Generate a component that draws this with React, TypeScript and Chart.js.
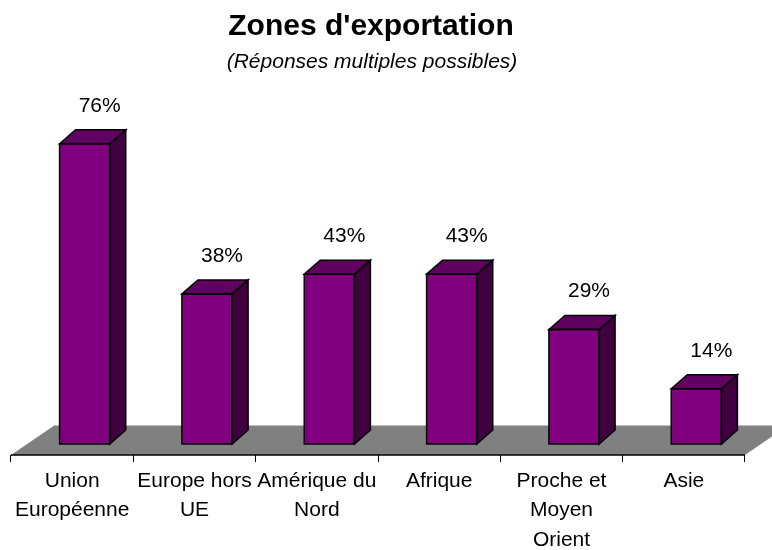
import React, { useEffect, useRef } from "react";
import { Chart, registerables } from "chart.js";

Chart.register(...registerables);

const TITLE = "Zones d'exportation";
const SUBTITLE = "(Réponses multiples possibles)";
const categories: string[][] = [
  ["Union", "Européenne"],
  ["Europe hors", "UE"],
  ["Amérique du", "Nord"],
  ["Afrique"],
  ["Proche et", "Moyen", "Orient"],
  ["Asie"],
];
const values: number[] = [76, 38, 43, 43, 29, 14];
const valueLabels: string[] = ["76%", "38%", "43%", "43%", "29%", "14%"];

const FONT = '"Liberation Sans", Arial, sans-serif';
const SHIFT = 12.5; // perspective shift of bars
const BDX = 16;
const BDY = 14;
const FDX = 44;
const FDY = 30;

const threeD = {
  id: "threeD",
  beforeDatasetsDraw(chart: any) {
    const { ctx, chartArea } = chart;
    const x0 = chartArea.left;
    const x1 = chartArea.right;
    const y0 = chartArea.bottom;
    ctx.save();
    ctx.beginPath();
    ctx.moveTo(x0, y0);
    ctx.lineTo(x0 + FDX, y0 - FDY);
    ctx.lineTo(x1 + FDX, y0 - FDY);
    ctx.lineTo(x1, y0);
    ctx.closePath();
    ctx.fillStyle = "#808080";
    ctx.fill();
    ctx.strokeStyle = "#c0c0c0";
    ctx.lineWidth = 1;
    ctx.beginPath();
    ctx.moveTo(x0 + FDX, y0 - FDY + 0.5);
    ctx.lineTo(x1 + FDX, y0 - FDY + 0.5);
    ctx.stroke();
    ctx.strokeStyle = "#000";
    ctx.lineWidth = 1.5;
    ctx.beginPath();
    ctx.moveTo(x0, y0);
    ctx.lineTo(x1, y0);
    ctx.stroke();
    ctx.restore();
  },
  beforeDatasetDraw(chart: any) {
    chart.ctx.save();
    chart.ctx.translate(SHIFT, 0);
  },
  afterDatasetDraw(chart: any, args: any) {
    const { ctx } = chart;
    const meta = args.meta;
    meta.data.forEach((bar: any) => {
      const { x, y, base, width } = bar.getProps(["x", "y", "base", "width"], true);
      const l = x - width / 2;
      const r = x + width / 2;
      ctx.lineWidth = 1.5;
      ctx.strokeStyle = "#000";
      ctx.lineJoin = "miter";
      // side
      ctx.beginPath();
      ctx.moveTo(r, y);
      ctx.lineTo(r + BDX, y - BDY);
      ctx.lineTo(r + BDX, base - BDY);
      ctx.lineTo(r, base);
      ctx.closePath();
      ctx.fillStyle = "#400040";
      ctx.fill();
      ctx.stroke();
      // top
      ctx.beginPath();
      ctx.moveTo(l, y);
      ctx.lineTo(l + BDX, y - BDY);
      ctx.lineTo(r + BDX, y - BDY);
      ctx.lineTo(r, y);
      ctx.closePath();
      ctx.fillStyle = "#600060";
      ctx.fill();
      ctx.stroke();
      // front outline
      ctx.strokeRect(l, y, width, base - y);
    });
    ctx.restore();
  },
  afterDatasetsDraw(chart: any) {
    const { ctx } = chart;
    const meta = chart.getDatasetMeta(0);
    ctx.save();
    ctx.fillStyle = "#000";
    ctx.font = `21px ${FONT}`;
    ctx.textAlign = "center";
    ctx.textBaseline = "alphabetic";
    meta.data.forEach((bar: any, i: number) => {
      const { x, y } = bar.getProps(["x", "y"], true);
      ctx.fillText(valueLabels[i], x + SHIFT + 15, y - 32);
    });
    ctx.restore();
  },
  afterDraw(chart: any) {
    const { ctx } = chart;
    ctx.save();
    ctx.fillStyle = "#000";
    ctx.textAlign = "center";
    ctx.textBaseline = "alphabetic";
    ctx.font = `bold 30px ${FONT}`;
    ctx.fillText(TITLE, 371, 35);
    ctx.font = `italic 21px ${FONT}`;
    ctx.fillText(SUBTITLE, 372, 68);
    ctx.restore();
  },
};

export default function App() {
  const ref = useRef<HTMLCanvasElement>(null);
  useEffect(() => {
    const chart = new Chart(ref.current as HTMLCanvasElement, {
      type: "bar",
      data: {
        labels: categories,
        datasets: [
          {
            data: values,
            backgroundColor: "#800080",
            borderWidth: 0,
            barPercentage: 0.41,
            categoryPercentage: 1,
          },
        ],
      },
      options: {
        responsive: false,
        animation: false,
        events: [],
        layout: { padding: { top: 100, left: 11, right: 27, bottom: 0 } },
        plugins: {
          legend: { display: false },
          title: { display: false },
          tooltip: { enabled: false },
        },
        scales: {
          x: {
            offset: true,
            border: { display: false },
            grid: {
              offset: true,
              drawOnChartArea: false,
              drawTicks: true,
              tickLength: 7,
              color: "#000",
              lineWidth: 1,
            },
            ticks: {
              autoSkip: false,
              maxRotation: 0,
              minRotation: 0,
              padding: 4,
              color: "#000",
              font: { family: FONT, size: 21, lineHeight: 1.405 },
            },
            afterFit(scale: any) {
              scale.height = 95;
            },
          },
          y: {
            display: false,
            min: -2.785,
            max: 87.09,
          },
        },
      },
      plugins: [threeD],
    });
    return () => chart.destroy();
  }, []);
  return (
    <div style={{ position: "fixed", left: 0, top: 0, width: 772, height: 550, background: "#fff" }}>
      <canvas ref={ref} width={772} height={550} style={{ display: "block" }} />
    </div>
  );
}
